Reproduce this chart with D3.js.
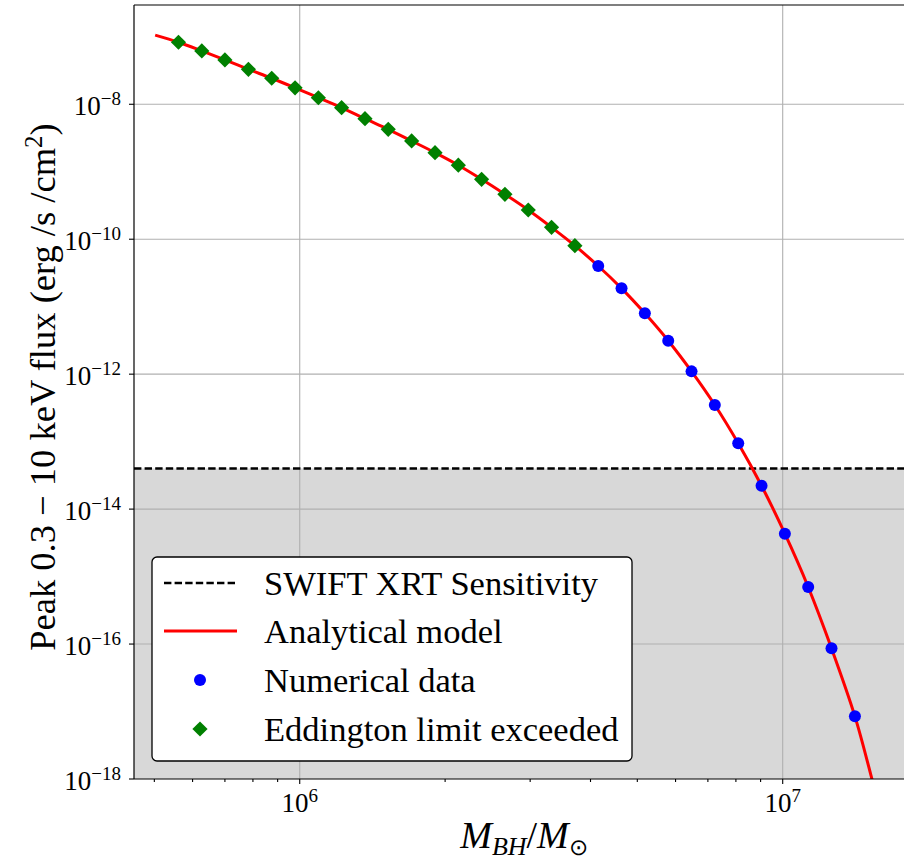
<!DOCTYPE html>
<html>
<head>
<meta charset="utf-8">
<script src="https://cdn.jsdelivr.net/npm/d3@7"></script>
<style>
  html, body { margin: 0; padding: 0; background: #fff; }
  svg { display: block; }
</style>
</head>
<body>
<svg id="chart" width="904" height="861"></svg>
<script>
// Black-hole mass (solar masses) and peak 0.3-10 keV flux (erg/s/cm^2)
const massEddington = [5.61e5, 6.27e5, 7.00e5, 7.83e5, 8.75e5, 9.78e5, 1.093e6, 1.221e6, 1.365e6,
  1.525e6, 1.705e6, 1.906e6, 2.130e6, 2.380e6, 2.660e6, 2.973e6, 3.322e6, 3.713e6];
const fluxEddington = [8.30e-8, 6.17e-8, 4.54e-8, 3.30e-8, 2.43e-8, 1.75e-8, 1.25e-8, 8.91e-9, 6.12e-9,
  4.26e-9, 2.86e-9, 1.92e-9, 1.25e-9, 7.73e-10, 4.63e-10, 2.71e-10, 1.50e-10, 8.02e-11];

const massNumerical = [4.150e6, 4.638e6, 5.183e6, 5.794e6, 6.475e6, 7.236e6, 8.089e6, 9.041e6,
  1.0104e7, 1.1292e7, 1.2620e7, 1.4110e7];
const fluxNumerical = [4.01e-11, 1.87e-11, 7.98e-12, 3.13e-12, 1.10e-12, 3.49e-13, 9.46e-14, 2.22e-14,
  4.32e-15, 7.01e-16, 8.65e-17, 8.49e-18];

const modelMass = [5.02e5, 5.61e5, 6.27e5, 7.00e5, 7.83e5, 8.75e5, 9.78e5, 1.093e6, 1.221e6, 1.365e6,
  1.525e6, 1.705e6, 1.906e6, 2.130e6, 2.380e6, 2.660e6, 2.973e6, 3.322e6, 3.713e6,
  4.150e6, 4.638e6, 5.183e6, 5.794e6, 6.475e6, 7.236e6, 8.089e6, 9.041e6,
  1.0104e7, 1.1292e7, 1.2620e7, 1.4110e7, 1.53e7, 1.60e7];
const modelFlux = [1.06e-7, 8.30e-8, 6.17e-8, 4.54e-8, 3.30e-8, 2.43e-8, 1.75e-8, 1.25e-8, 8.91e-9, 6.12e-9,
  4.26e-9, 2.86e-9, 1.92e-9, 1.25e-9, 7.73e-10, 4.63e-10, 2.71e-10, 1.50e-10, 8.02e-11,
  4.01e-11, 1.87e-11, 7.98e-12, 3.13e-12, 1.10e-12, 3.49e-13, 9.46e-14, 2.22e-14,
  4.32e-15, 7.01e-16, 8.65e-17, 8.49e-18, 1.0e-18, 2.8e-19];

const swiftSensitivity = 4e-14;

const xTickValues = [1e6, 1e7];
const xTickExponents = ["6", "7"];
const yTickValues = [1e-18, 1e-16, 1e-14, 1e-12, 1e-10, 1e-8];
const yTickExponents = ["\u221218", "\u221216", "\u221214", "\u221212", "\u221210", "\u22128"];

const legendLabels = ["SWIFT XRT Sensitivity", "Analytical model", "Numerical data", "Eddington limit exceeded"];
const xLabel = { main: "M", sub: "BH", slash: "/", main2: "M", sub2: "\u2299" };
const yLabel = "Peak 0.3 \u2212 10 keV flux (erg /s /cm";

const SERIF = "Liberation Serif";

// ---- layout ----
const svg = d3.select("#chart");
const plot = { left: 134, right: 915, top: 5, bottom: 779 };

const x = d3.scaleLog().domain([4.538e5, 1.879e7]).range([plot.left, plot.right]);
const y = d3.scaleLog().domain([1e-18, 2.96e-7]).range([plot.bottom, plot.top]);

// every label is a direct child of the svg root, in the serif face
function rootText(size) {
  return svg.append("text").style("font-family", SERIF).style("font-size", size + "px");
}

// tick labels as 10^n
const tickFont = 27, supFont = 19;
xTickValues.forEach((v, i) => {
  const t = rootText(tickFont).attr("x", x(v)).attr("y", 812).attr("text-anchor", "middle");
  t.append("tspan").text("10");
  t.append("tspan").style("font-size", supFont + "px").attr("dy", -10).text(xTickExponents[i]);
});
yTickValues.forEach((v, i) => {
  const t = rootText(tickFont).attr("x", 121).attr("y", y(v) + 11).attr("text-anchor", "end");
  t.append("tspan").text("10");
  t.append("tspan").style("font-size", supFont + "px").attr("dy", -10).text(yTickExponents[i]);
});

// x axis label
const xt = rootText(38).attr("x", 524).attr("y", 848).attr("text-anchor", "middle");
xt.append("tspan").style("font-style", "italic").text(xLabel.main);
xt.append("tspan").style("font-style", "italic").style("font-size", "26px").attr("dy", 7).text(xLabel.sub);
xt.append("tspan").attr("dy", -7).text(xLabel.slash);
xt.append("tspan").style("font-style", "italic").text(xLabel.main2);
xt.append("tspan").style("font-size", "23px").attr("dy", 7).text(xLabel.sub2);

// y axis label
const yt = rootText(36.5)
  .attr("transform", `translate(55,${(plot.top + plot.bottom) / 2 - 5}) rotate(-90)`)
  .attr("text-anchor", "middle");
yt.append("tspan").text(yLabel);
yt.append("tspan").style("font-size", "25px").attr("dy", -13).text("2");
yt.append("tspan").attr("dy", 13).text(")");

// ---- plot body (inserted beneath the labels) ----
const body = svg.insert("g", ":first-child");

body.append("defs").append("clipPath").attr("id", "plotClip")
  .append("rect")
  .attr("x", plot.left).attr("y", plot.top)
  .attr("width", plot.right - plot.left).attr("height", plot.bottom - plot.top);

// shaded region below the detector sensitivity
body.append("rect")
  .attr("x", plot.left).attr("y", y(swiftSensitivity))
  .attr("width", plot.right - plot.left)
  .attr("height", plot.bottom - y(swiftSensitivity))
  .attr("fill", "#d8d8d8");

// grid
const grid = body.append("g").attr("stroke", "#b0b0b0").attr("stroke-width", 1.1);
grid.selectAll(".gx").data(xTickValues).join("line")
  .attr("x1", d => x(d)).attr("x2", d => x(d))
  .attr("y1", plot.top).attr("y2", plot.bottom);
grid.selectAll(".gy").data(yTickValues.filter(d => d > 1e-18)).join("line")
  .attr("x1", plot.left).attr("x2", plot.right)
  .attr("y1", d => y(d)).attr("y2", d => y(d));

// sensitivity line
body.append("line")
  .attr("x1", plot.left).attr("x2", plot.right)
  .attr("y1", y(swiftSensitivity)).attr("y2", y(swiftSensitivity))
  .attr("stroke", "#000").attr("stroke-width", 2.4)
  .attr("stroke-dasharray", "7.4,3.2");

// analytical model curve
const modelData = modelMass.map((m, i) => [m, modelFlux[i]]);
body.append("path")
  .datum(modelData)
  .attr("clip-path", "url(#plotClip)")
  .attr("fill", "none")
  .attr("stroke", "#ff0000")
  .attr("stroke-width", 3)
  .attr("d", d3.line().x(d => x(d[0])).y(d => y(d[1])).curve(d3.curveCatmullRom.alpha(0.5)));

// numerical points
body.append("g").selectAll("circle")
  .data(massNumerical.map((m, i) => [m, fluxNumerical[i]]))
  .join("circle")
  .attr("cx", d => x(d[0])).attr("cy", d => y(d[1]))
  .attr("r", 6).attr("fill", "#0000ff");

// Eddington-exceeding points (diamonds)
const diamond = (cx, cy, r) => `M${cx},${cy - r}L${cx + r},${cy}L${cx},${cy + r}L${cx - r},${cy}Z`;
body.append("g").selectAll("path")
  .data(massEddington.map((m, i) => [m, fluxEddington[i]]))
  .join("path")
  .attr("d", d => diamond(x(d[0]), y(d[1]), 7.6))
  .attr("fill", "#008000");

// spines
const spines = body.append("g").attr("stroke", "#000").attr("stroke-width", 1.2).attr("fill", "none");
spines.append("line").attr("x1", plot.left).attr("x2", plot.left).attr("y1", plot.top).attr("y2", plot.bottom);
spines.append("line").attr("x1", plot.left).attr("x2", plot.right).attr("y1", plot.bottom).attr("y2", plot.bottom);
spines.append("line").attr("x1", plot.left).attr("x2", plot.right).attr("y1", plot.top).attr("y2", plot.top);

// axis tick marks (major + minor); labels are drawn separately
const minorX = [];
for (const dec of [1e5, 1e6, 1e7]) for (let k = 2; k <= 9; k++) {
  const v = k * dec;
  if (x(v) >= plot.left && x(v) <= plot.right) minorX.push(v);
}
const ticks = body.append("g").attr("stroke", "#000").attr("stroke-width", 1.1);
ticks.selectAll(".tx").data(xTickValues).join("line")
  .attr("x1", d => x(d)).attr("x2", d => x(d)).attr("y1", plot.bottom).attr("y2", plot.bottom + 5);
ticks.selectAll(".tm").data(minorX).join("line")
  .attr("x1", d => x(d)).attr("x2", d => x(d)).attr("y1", plot.bottom).attr("y2", plot.bottom + 3);
ticks.selectAll(".ty").data(yTickValues).join("line")
  .attr("x1", plot.left - 5).attr("x2", plot.left).attr("y1", d => y(d)).attr("y2", d => y(d));

// legend frame and handles
const lg = body.append("g");
lg.append("rect").attr("x", 152).attr("y", 557).attr("width", 480).attr("height", 204)
  .attr("rx", 5).attr("fill", "#fff").attr("stroke", "#000").attr("stroke-width", 1.3);
const rowY = [583, 631, 680, 729];
lg.append("line").attr("x1", 164).attr("x2", 237).attr("y1", rowY[0]).attr("y2", rowY[0])
  .attr("stroke", "#000").attr("stroke-width", 2.4).attr("stroke-dasharray", "7.4,3.2");
lg.append("line").attr("x1", 164).attr("x2", 237).attr("y1", rowY[1]).attr("y2", rowY[1])
  .attr("stroke", "#ff0000").attr("stroke-width", 3);
lg.append("circle").attr("cx", 200).attr("cy", rowY[2]).attr("r", 6).attr("fill", "#0000ff");
lg.append("path").attr("d", diamond(200, rowY[3], 7.6)).attr("fill", "#008000");

// legend texts
legendLabels.forEach((d, i) => {
  rootText(34.5).attr("x", 264).attr("y", rowY[i] + 12).text(d);
});
</script>
</body>
</html>
